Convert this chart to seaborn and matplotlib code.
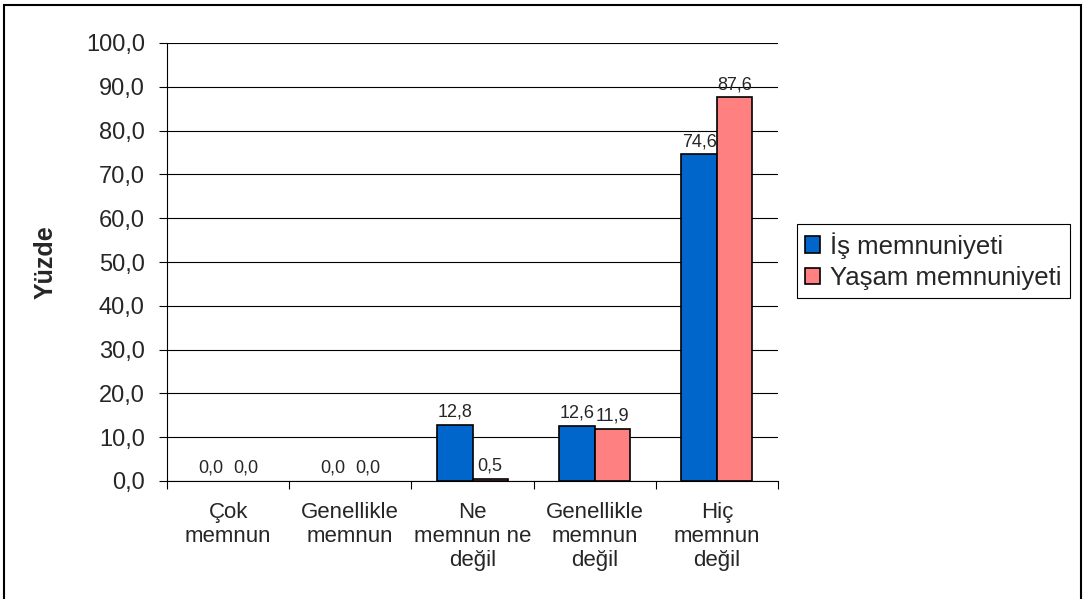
import pandas as pd
import seaborn as sns
import matplotlib.pyplot as plt
from matplotlib.patches import Rectangle
from matplotlib.ticker import FixedLocator

kategoriler = ["Çok\nmemnun", "Genellikle\nmemnun", "Ne\nmemnun ne\ndeğil",
               "Genellikle\nmemnun\ndeğil", "Hiç\nmemnun\ndeğil"]
is_memnuniyeti = [0.0, 0.0, 12.8, 12.6, 74.6]
yasam_memnuniyeti = [0.0, 0.0, 0.5, 11.9, 87.6]
seriler = ["İş memnuniyeti", "Yaşam memnuniyeti"]
renkler = ["#0066CC", "#FF8080"]

tablo = pd.DataFrame({
    "kategori": kategoriler * 2,
    "seri": [seriler[0]] * 5 + [seriler[1]] * 5,
    "yuzde": is_memnuniyeti + yasam_memnuniyeti,
})

sns.set_style("white")
plt.rcParams["font.family"] = ["Liberation Sans", "DejaVu Sans"]

fig = plt.figure(figsize=(10.83, 5.99), dpi=100)
ax = fig.add_axes([167 / 1083, 118 / 599, 611 / 1083, 438 / 599])

sns.barplot(data=tablo, x="kategori", y="yuzde", hue="seri", palette=renkler,
            saturation=1, width=0.58, edgecolor="black", linewidth=1.2, ax=ax, zorder=3)

for cont in ax.containers:
    ax.bar_label(cont, labels=[f"{v:.1f}".replace(".", ",") for v in cont.datavalues],
                 padding=3, fontsize=13)

ax.set_ylim(0, 100)
ax.set_xlim(-0.5, 4.5)
ax.set_yticks(range(0, 101, 10))
ax.set_yticklabels([f"{v},0" for v in range(0, 101, 10)], fontsize=17)
ax.yaxis.grid(True, color="black", linewidth=0.8, zorder=0)
ax.tick_params(axis="y", length=6, width=0.8, color="black", direction="out",
               left=True, pad=10)
ax.tick_params(axis="x", which="major", length=0, labelsize=16, pad=15)
ax.xaxis.set_minor_locator(FixedLocator([i - 0.5 for i in range(6)]))
ax.tick_params(axis="x", which="minor", length=6, width=0.8, color="black",
               direction="out", bottom=True)
for t in ax.get_xticklabels():
    t.set_linespacing(1.2)
ax.set_xlabel("")
ax.set_ylabel("Yüzde", fontsize=18, fontweight="bold", labelpad=20)

for s in ["top", "right"]:
    ax.spines[s].set_visible(False)
for s in ["left", "bottom"]:
    ax.spines[s].set_color("black")
    ax.spines[s].set_linewidth(0.8)

leg = ax.legend(loc="center left", bbox_to_anchor=(1 + 19 / 611, 0.502), fontsize=18.5,
                frameon=True, fancybox=False, edgecolor="black", framealpha=1,
                handlelength=0.6, handleheight=0.6, handletextpad=0.4,
                borderpad=0.3, labelspacing=0.3, borderaxespad=0)
leg.get_frame().set_linewidth(0.8)
for h in leg.legend_handles:
    h.set_edgecolor("black")
    h.set_linewidth(1.2)

# sıfır yükseklikli çubuklarda kenar çizgisi görünmesin
for p in ax.patches:
    if p.get_height() == 0:
        p.set_linewidth(0)

fig.patches.append(Rectangle((4 / 1083, -0.01), 1077 / 1083, 1 - 5 / 599 + 0.01,
                             transform=fig.transFigure, fill=False,
                             edgecolor="black", linewidth=1.5))

fig.savefig("out.png", dpi=100)
